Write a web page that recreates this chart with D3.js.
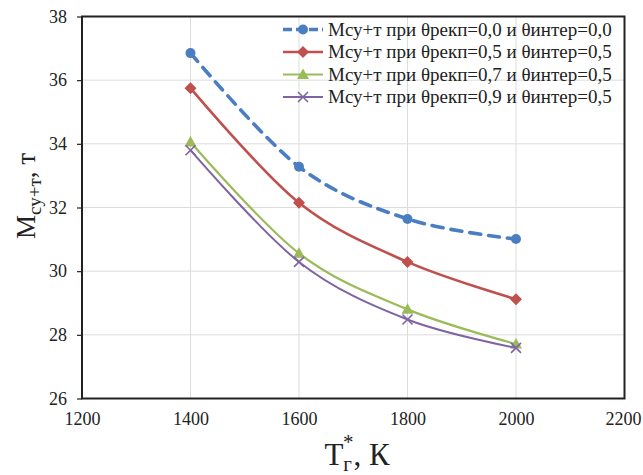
<!DOCTYPE html>
<html>
<head>
<meta charset="utf-8">
<script src="https://cdn.jsdelivr.net/npm/d3@7"></script>
<style>
  html, body { margin: 0; padding: 0; background: #fff; }
  svg { display: block; }
  text { font-family: "Liberation Serif", "Times New Roman", serif; fill: #222; }
</style>
</head>
<body>
<svg id="chart" width="643" height="475"></svg>
<script>
// Gas temperature, K
const temperatures = [1400, 1600, 1800, 2000];

// Mass of the propulsion system, t, for each combination of theta values
const seriesNames = [
  "Мсу+т при θрекп=0,0 и θинтер=0,0",
  "Мсу+т при θрекп=0,5 и θинтер=0,5",
  "Мсу+т при θрекп=0,7 и θинтер=0,5",
  "Мсу+т при θрекп=0,9 и θинтер=0,5"
];
const massA = [36.85, 33.28, 31.64, 31.01];
const massB = [35.75, 32.15, 30.29, 29.12];
const massC = [34.06, 30.56, 28.80, 27.71];
const massD = [33.80, 30.29, 28.48, 27.59];

const xTicks = [1200, 1400, 1600, 1800, 2000, 2200];
const yTicks = [26, 28, 30, 32, 34, 36, 38];

const styles = [
  { color: "#4A7EC1", width: 3.6, dash: "11,8", marker: "circle" },
  { color: "#C0504D", width: 2.6, dash: null, marker: "diamond" },
  { color: "#9BBB59", width: 2.2, dash: null, marker: "triangle" },
  { color: "#8064A2", width: 2.0, dash: null, marker: "cross" }
];
const seriesValues = [massA, massB, massC, massD];

const serif = '"Liberation Serif", "Times New Roman", serif';
const svg = d3.select("#chart");
const plotLeft = 82, plotRight = 624.5, plotTop = 16.5, plotBottom = 398.5;

const x = d3.scaleLinear().domain([1200, 2200]).range([plotLeft, plotRight]);
const y = d3.scaleLinear().domain([26, 38]).range([plotBottom, plotTop]);

// gridlines
svg.append("g").selectAll("line").data(xTicks).join("line")
  .attr("x1", d => x(d)).attr("x2", d => x(d))
  .attr("y1", plotTop).attr("y2", plotBottom)
  .attr("stroke", "#dcdcdc").attr("stroke-width", 1);
svg.append("g").selectAll("line").data(yTicks).join("line")
  .attr("x1", plotLeft).attr("x2", plotRight)
  .attr("y1", d => y(d)).attr("y2", d => y(d))
  .attr("stroke", "#dcdcdc").attr("stroke-width", 1);

// axes
const yAxis = d3.axisLeft(y).tickValues(yTicks).tickFormat(d3.format("d"))
  .tickSize(5).tickSizeOuter(0).tickPadding(10);
const gy = svg.append("g").attr("transform", `translate(${plotLeft},0)`).call(yAxis);
gy.select(".domain").remove();
gy.selectAll(".tick line").attr("stroke", "#222").attr("stroke-width", 1.2);
gy.selectAll(".tick text").style("font-size", "18px").style("font-family", serif).attr("fill", "#222");

const xAxis = d3.axisBottom(x).tickValues(xTicks).tickFormat(d3.format("d"))
  .tickSize(0).tickPadding(14);
const gx = svg.append("g").attr("transform", `translate(0,${plotBottom})`).call(xAxis);
gx.select(".domain").remove();
gx.selectAll(".tick text").style("font-size", "18px").style("font-family", serif).attr("fill", "#222");
gx.selectAll(".tick text").filter(d => d === 2200).attr("dx", -1.5);

// plot frame
svg.append("rect")
  .attr("x", plotLeft).attr("y", plotTop)
  .attr("width", plotRight - plotLeft).attr("height", plotBottom - plotTop)
  .attr("fill", "none").attr("stroke", "#222").attr("stroke-width", 2);

// markers
function drawMarker(g, type, cx, cy, color) {
  if (type === "circle") {
    g.append("circle").attr("cx", cx).attr("cy", cy).attr("r", 5).attr("fill", color);
  } else if (type === "diamond") {
    const r = 6;
    g.append("path").attr("d", `M${cx},${cy - r}L${cx + r},${cy}L${cx},${cy + r}L${cx - r},${cy}Z`).attr("fill", color);
  } else if (type === "triangle") {
    const r = 6;
    g.append("path").attr("d", `M${cx},${cy - r}L${cx + r},${cy + r * 0.75}L${cx - r},${cy + r * 0.75}Z`).attr("fill", color);
  } else {
    const r = 5;
    g.append("path").attr("d", `M${cx - r},${cy - r}L${cx + r},${cy + r}M${cx - r},${cy + r}L${cx + r},${cy - r}`)
      .attr("stroke", color).attr("stroke-width", 1.6).attr("fill", "none");
  }
}

const line = d3.line()
  .x((d, i) => x(temperatures[i]))
  .y(d => y(d))
  .curve(d3.curveCardinal.tension(0));

const series = svg.append("g");
seriesValues.forEach((vals, k) => {
  const st = styles[k];
  series.append("path").datum(vals)
    .attr("d", line)
    .attr("fill", "none")
    .attr("stroke", st.color)
    .attr("stroke-width", st.width)
    .attr("stroke-dasharray", st.dash)
    .attr("stroke-linecap", st.dash ? "round" : "butt");
  const mg = series.append("g");
  vals.forEach((v, i) => drawMarker(mg, st.marker, x(temperatures[i]), y(v), st.color));
});

// legend
const legend = svg.append("g");
const rowY = [29.5, 52, 74.5, 97];
seriesNames.forEach((name, k) => {
  const st = styles[k];
  const ly = rowY[k];
  legend.append("line")
    .attr("x1", 283).attr("x2", 323).attr("y1", ly).attr("y2", ly)
    .attr("stroke", st.color).attr("stroke-width", st.width)
    .attr("stroke-dasharray", st.dash ? "9,4" : null);
  drawMarker(legend, st.marker, 303, ly, st.color);
  legend.append("text")
    .attr("x", 328).attr("y", ly).attr("dy", "0.33em")
    .style("font-size", "19px").style("font-family", serif)
    .text(name);
});

// axis titles
const yt = svg.append("text")
  .attr("transform", "translate(35,196) rotate(-90)")
  .attr("text-anchor", "middle");
yt.append("tspan").style("font-size", "27px").text("М");
yt.append("tspan").style("font-size", "19px").attr("dy", 6).text("су+т");
yt.append("tspan").style("font-size", "27px").attr("dy", -6).text(", т");

const xt = svg.append("text")
  .attr("x", 357).attr("y", 465)
  .attr("text-anchor", "middle");
xt.append("tspan").style("font-size", "31px").text("Т");
xt.append("tspan").style("font-size", "21px").attr("dy", 6).text("г");
xt.append("tspan").style("font-size", "21px").attr("dx", -9).attr("dy", -22).text("*");
xt.append("tspan").style("font-size", "31px").attr("dy", 16).text(", К");
</script>
</body>
</html>
